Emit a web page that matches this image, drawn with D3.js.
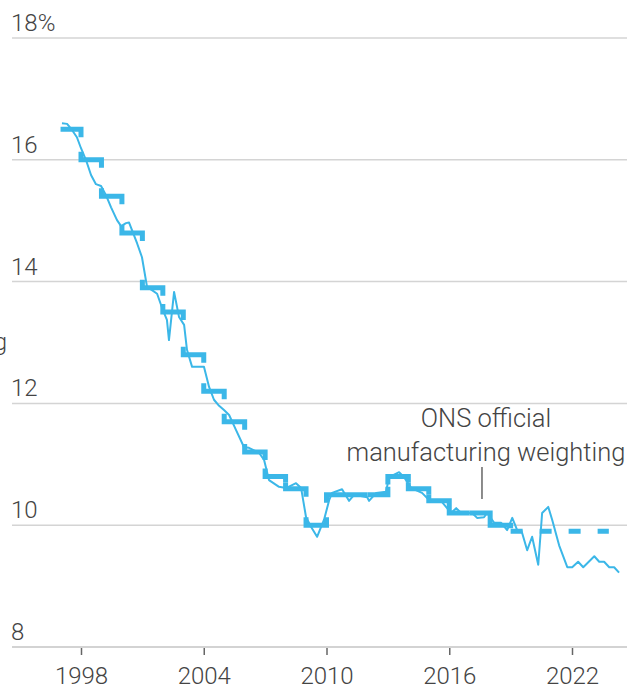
<!DOCTYPE html>
<html>
<head>
<meta charset="utf-8">
<script src="https://d3js.org/d3.v7.min.js"></script>
<style>
  body { margin: 0; background: #fff; }
  text { font-family: Roboto, "Noto Sans", sans-serif; font-weight: 300; fill: #444; }
</style>
</head>
<body>
<script>
var width = 639
var height = 693

// actual share (thin line)
var actualYears = [1997.07, 1997.32, 1997.56, 1997.8, 1998.0, 1998.24, 1998.49, 1998.73, 1998.98, 1999.22,
  1999.47, 1999.76, 1999.96, 2000.2, 2000.35, 2000.74, 2000.98, 2001.23, 2001.47, 2001.72,
  2001.96, 2002.2, 2002.3, 2002.55, 2002.79, 2003.04, 2003.18, 2003.43, 2004.01, 2004.26,
  2004.5, 2004.75, 2004.99, 2005.24, 2005.58, 2005.97, 2006.21, 2006.7, 2006.95, 2007.19,
  2007.68, 2008.02, 2008.51, 2008.76, 2009.0, 2009.25, 2009.54, 2009.88, 2010.13, 2010.27,
  2010.76, 2011.1, 2011.35, 2011.99, 2012.08, 2012.43, 2012.91, 2013.06, 2013.55, 2013.79,
  2014.14, 2014.67, 2015.11, 2015.65, 2016.09, 2016.34, 2016.58, 2017.12, 2017.36, 2017.7,
  2017.85, 2018.2, 2018.54, 2018.83, 2019.08, 2019.32, 2019.52, 2019.81, 2020.05, 2020.35,
  2020.54, 2020.84, 2021.03, 2021.37, 2021.77, 2022.01, 2022.3, 2022.55, 2023.09, 2023.33,
  2023.57, 2023.82, 2024.06, 2024.3]
var actualValues = [16.6, 16.59, 16.49, 16.37, 16.19, 16.0, 15.75, 15.6, 15.57, 15.42,
  15.22, 15.01, 14.91, 14.96, 14.97, 14.63, 14.4, 13.91, 13.86, 13.8,
  13.57, 13.37, 13.04, 13.83, 13.42, 13.29, 12.88, 12.6, 12.6, 12.27,
  12.06, 11.96, 11.89, 11.81, 11.56, 11.28, 11.27, 11.19, 11.07, 10.74,
  10.63, 10.61, 10.69, 10.61, 10.13, 9.97, 9.81, 10.09, 10.41, 10.53,
  10.59, 10.4, 10.5, 10.46, 10.4, 10.53, 10.55, 10.79, 10.87, 10.79,
  10.61, 10.53, 10.38, 10.38, 10.2, 10.28, 10.2, 10.2, 10.12, 10.13,
  10.2, 10.04, 10.04, 9.92, 10.12, 9.92, 9.92, 9.59, 9.81, 9.35,
  10.2, 10.3, 10.09, 9.67, 9.31, 9.31, 9.4, 9.31, 9.49, 9.4,
  9.4, 9.31, 9.31, 9.22]

// ONS official weighting, one value per year (step line)
var weightYears = [1997, 1998, 1999, 2000, 2001, 2002, 2003, 2004, 2005, 2006, 2007, 2008, 2009,
  2010, 2011, 2012, 2013, 2014, 2015, 2016, 2017, 2018, 2019]
var weightValues = [16.5, 16.0, 15.4, 14.8, 13.9, 13.5, 12.8, 12.2, 11.7, 11.2, 10.8, 10.6, 10.0,
  10.5, 10.5, 10.5, 10.8, 10.6, 10.4, 10.2, 10.2, 10.0, 9.9]
// ultimo valore tenuto fermo fino alla fine (tratteggiato)
var heldYears = [2019, 2023.8]
var heldValues = [9.9, 9.9]

var yTicks = [8, 10, 12, 14, 16, 18]
var xTicks = [1998, 2004, 2010, 2016, 2022]

var blue = "#3bb7e8"

var svg = d3.select("body").append("svg").attr("width", width).attr("height", height)

var xScale = d3.scaleLinear().domain([1998, 2022]).range([81, 572])
var yScale = d3.scaleLinear().domain([8, 18]).range([647, 38])

// griglia orizzontale + etichette
svg.selectAll("line.grid")
  .data(yTicks)
  .enter()
  .append("line")
  .attr("class", "grid")
  .attr("x1", 12).attr("x2", 627)
  .attr("y1", function(d){ return yScale(d) })
  .attr("y2", function(d){ return yScale(d) })
  .attr("stroke", function(d){ return d == 8 ? "#c4c4c4" : "#d4d4d4" })
  .attr("stroke-width", 1.5)

svg.selectAll("text.ylab")
  .data(yTicks)
  .enter()
  .append("text")
  .attr("class", "ylab")
  .attr("x", 11)
  .attr("y", function(d){ return yScale(d) - 7 })
  .attr("font-size", 24)
  .text(function(d){ return d == 18 ? "18%" : d })

// asse x
var xAxis = d3.axisBottom(xScale).tickValues(xTicks).tickFormat(d3.format("d")).tickSize(7).tickPadding(12)
var gx = svg.append("g").attr("transform", "translate(0," + 648 + ")").call(xAxis)
gx.select(".domain").remove()
gx.selectAll("line").attr("stroke", "#666").attr("stroke-width", 1.5)
gx.selectAll("text").attr("font-size", 24).attr("fill", "#444").attr("font-family", null)

// linea a gradini: un pezzo per anno, con solo l'inizio/fine dei salti verticali
var stub = 8
var segs = []
for (let i = 0; i < weightYears.length - 1; i++) {
  var x0 = xScale(weightYears[i]), x1 = xScale(weightYears[i + 1])
  var y = yScale(weightValues[i])
  var pts = []
  if (i > 0) {
    var dyIn = yScale(weightValues[i - 1]) - y
    var sIn = Math.min(stub, Math.abs(dyIn) / 2)
    pts.push([x0, y + (dyIn < 0 ? -sIn : sIn)])
  }
  pts.push([x0, y])
  pts.push([x1, y])
  var dyOut = yScale(weightValues[i + 1]) - y
  var sOut = Math.min(stub, Math.abs(dyOut) / 2)
  pts.push([x1, y + (dyOut < 0 ? -sOut : sOut)])
  segs.push(pts)
}

svg.selectAll("path.step")
  .data(segs)
  .enter()
  .append("path")
  .attr("class", "step")
  .attr("d", d3.line())
  .attr("fill", "none")
  .attr("stroke", blue)
  .attr("stroke-width", 5)

var held = heldYears.map(function(d, i){ return [d, heldValues[i]] })
var lineThin = d3.line().x(function(d){ return xScale(d[0]) }).y(function(d){ return yScale(d[1]) })

svg.append("path")
  .attr("d", lineThin(held))
  .attr("fill", "none")
  .attr("stroke", blue)
  .attr("stroke-width", 5)
  .attr("stroke-dasharray", "12,17")

// linea sottile
var actual = actualYears.map(function(d, i){ return [d, actualValues[i]] })
svg.append("path")
  .attr("d", lineThin(actual))
  .attr("fill", "none")
  .attr("stroke", blue)
  .attr("stroke-width", 2)
  .attr("stroke-linejoin", "round")

// annotazione
svg.append("text").attr("x", 486).attr("y", 427).attr("text-anchor", "middle").attr("font-size", 25.5).text("ONS official")
svg.append("text").attr("x", 486).attr("y", 461).attr("text-anchor", "middle").attr("font-size", 25.5).text("manufacturing weighting")
svg.append("line").attr("x1", xScale(2017.6)).attr("x2", xScale(2017.6)).attr("y1", 467).attr("y2", 499)
  .attr("stroke", "#666").attr("stroke-width", 1.5)

// etichetta tagliata a sinistra
svg.append("text").attr("x", 7).attr("y", 350).attr("text-anchor", "end").attr("font-size", 24).text("Actual weighting")
</script>
</body>
</html>
